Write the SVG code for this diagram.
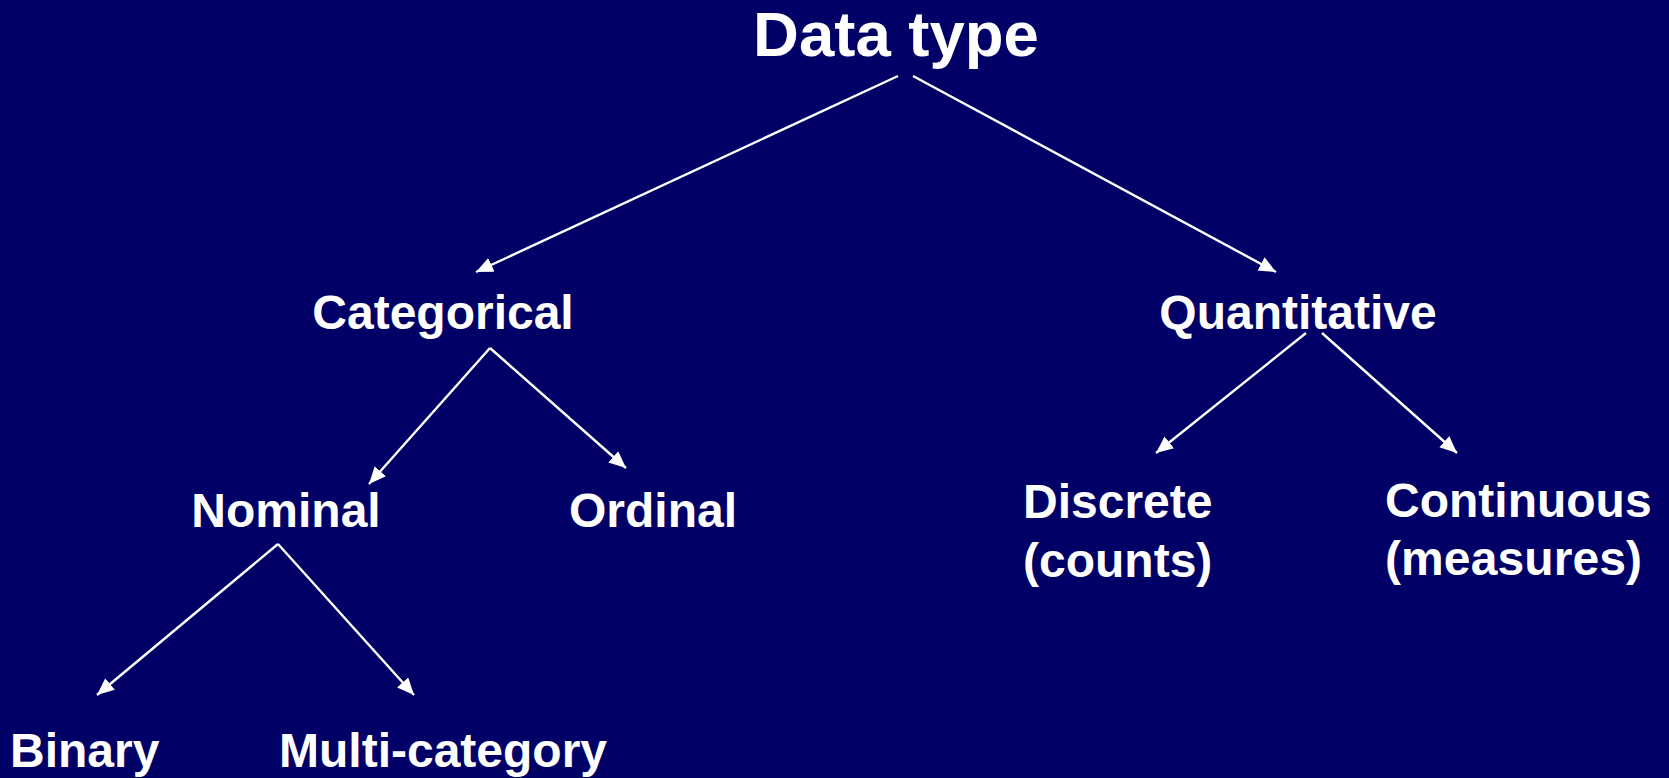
<svg xmlns="http://www.w3.org/2000/svg" width="1669" height="778" viewBox="0 0 1669 778">
<style>
text{font-family:"Liberation Sans",Arial,sans-serif;font-weight:bold;fill:#ffffff;font-size:48px}
.c{text-anchor:middle}
.conn line{stroke:#ffffff;stroke-width:2.4;marker-end:url(#ah)}
</style>
<defs>
<marker id="ah" markerUnits="userSpaceOnUse" markerWidth="20" markerHeight="16" refX="17" refY="7.5" orient="auto">
<path d="M0,0 L17,7.5 L0,15 Z" fill="#ffffff"/>
</marker>
</defs>
<rect x="0" y="0" width="1669" height="778" fill="#000066"/>
<g id="connectors" class="conn">
<line x1="898" y1="76" x2="476" y2="272"/>
<line x1="913" y1="76" x2="1276" y2="272"/>
<line x1="490" y1="348" x2="369" y2="484"/>
<line x1="490" y1="348" x2="626" y2="468"/>
<line x1="1306" y1="333" x2="1156" y2="453"/>
<line x1="1322" y1="333" x2="1457" y2="453"/>
<line x1="278" y1="544" x2="97" y2="695"/>
<line x1="278" y1="544" x2="414" y2="695"/>
</g>
<g id="datatype"><text class="c" x="896" y="56" style="font-size:63.5px">Data type</text></g>
<g id="categorical"><text class="c" x="443" y="329">Categorical</text></g>
<g id="quantitative"><text class="c" x="1298" y="329">Quantitative</text></g>
<g id="nominal"><text class="c" x="286" y="527">Nominal</text></g>
<g id="ordinal"><text class="c" x="653" y="527">Ordinal</text></g>
<g id="discrete"><text x="1023" y="518">Discrete</text><text x="1023" y="577">(counts)</text></g>
<g id="continuous"><text x="1385" y="517">Continuous</text><text x="1385" y="575" textLength="257">(measures)</text></g>
<g id="binary"><text x="10" y="767">Binary</text></g>
<g id="multicategory"><text x="279" y="767">Multi-category</text></g>
</svg>
